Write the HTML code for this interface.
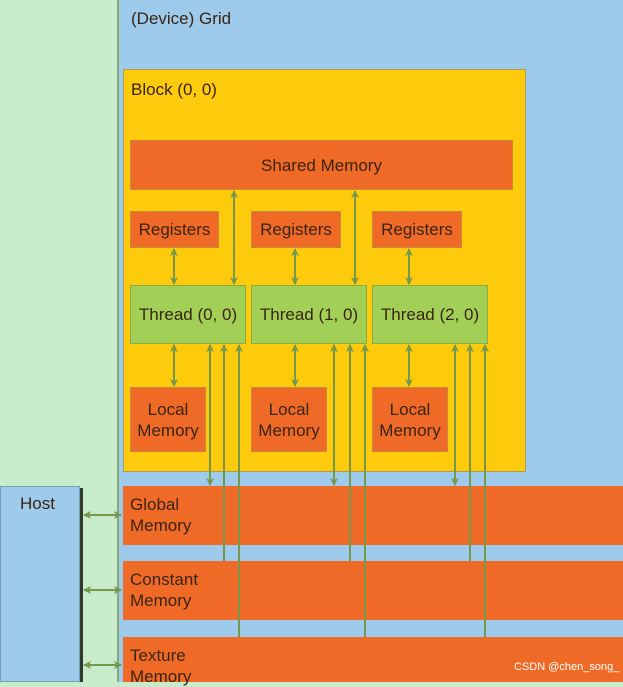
<!DOCTYPE html>
<html><head><meta charset="utf-8"><style>
body{margin:0;width:623px;height:682px;overflow:hidden;position:relative;background:#c7ebcb;font-family:"Liberation Sans",sans-serif;color:#3a2414}
div{position:absolute;box-sizing:border-box}
.o{background:#ef6a26;border:1px solid #c98a3a}
.t{background:#a2cf55;border:1px solid #8aab48}
.c{display:flex;align-items:center;justify-content:center;text-align:center;font-size:17px;line-height:21px}
.l{font-size:17px;line-height:21px;padding:8px 0 0 7px}
</style></head><body>
<div style="left:117px;top:0;width:506px;height:682px;background:#9ecbec;border-left:2px solid #86a877"></div>
<div style="left:131px;top:9px;font-size:17px">(Device) Grid</div>
<div style="left:123px;top:69px;width:403px;height:403px;background:#fdcb0c;border:1px solid #a8a050"></div>
<div style="left:131px;top:80px;font-size:17px">Block (0, 0)</div>
<div class="o c" style="left:130px;top:140px;width:383px;height:50px">Shared Memory</div>
<div class="o c" style="left:130px;top:211px;width:89px;height:37px">Registers</div>
<div class="o c" style="left:251px;top:211px;width:90px;height:37px">Registers</div>
<div class="o c" style="left:372px;top:211px;width:90px;height:37px">Registers</div>
<div class="t c" style="left:130px;top:285px;width:116px;height:59px">Thread (0, 0)</div>
<div class="t c" style="left:251px;top:285px;width:116px;height:59px">Thread (1, 0)</div>
<div class="t c" style="left:372px;top:285px;width:116px;height:59px">Thread (2, 0)</div>
<div class="o c" style="left:130px;top:387px;width:76px;height:65px">Local<br>Memory</div>
<div class="o c" style="left:251px;top:387px;width:76px;height:65px">Local<br>Memory</div>
<div class="o c" style="left:372px;top:387px;width:76px;height:65px">Local<br>Memory</div>
<div class="o l" style="left:123px;top:486px;width:500px;height:59px;border:none;padding-top:8px">Global<br>Memory</div>
<div class="o l" style="left:123px;top:561px;width:500px;height:59px;border:none">Constant<br>Memory</div>
<div class="o l" style="left:123px;top:637px;width:500px;height:45px;border:none">Texture<br>Memory</div>
<div style="left:0;top:486px;width:80px;height:196px;background:#9ecbec;border:1px solid #7aa0b8"></div>
<div style="left:20px;top:494px;font-size:17px">Host</div>
<div style="left:80px;top:488px;width:3px;height:194px;background:#2f3a2c"></div>
<div style="left:514px;top:661px;font-size:11px;color:#fff">CSDN @chen_song_</div>
<svg width="623" height="682" style="position:absolute;left:0;top:0">
<defs><marker id="a" markerWidth="8" markerHeight="8" refX="7" refY="4" orient="auto-start-reverse" markerUnits="userSpaceOnUse"><path d="M0,0L8,4L0,8L2,4Z" fill="#76984a"/></marker></defs>
<g stroke="#76984a" stroke-width="2" fill="none">
<line x1="174" y1="249" x2="174" y2="284" marker-start="url(#a)" marker-end="url(#a)"/>
<line x1="295" y1="249" x2="295" y2="284" marker-start="url(#a)" marker-end="url(#a)"/>
<line x1="409" y1="249" x2="409" y2="284" marker-start="url(#a)" marker-end="url(#a)"/>
<line x1="234" y1="191" x2="234" y2="284" marker-start="url(#a)" marker-end="url(#a)"/>
<line x1="355" y1="191" x2="355" y2="284" marker-start="url(#a)" marker-end="url(#a)"/>
<line x1="174" y1="345" x2="174" y2="386" marker-start="url(#a)" marker-end="url(#a)"/>
<line x1="295" y1="345" x2="295" y2="386" marker-start="url(#a)" marker-end="url(#a)"/>
<line x1="409" y1="345" x2="409" y2="386" marker-start="url(#a)" marker-end="url(#a)"/>
<line x1="210" y1="345" x2="210" y2="485" marker-start="url(#a)" marker-end="url(#a)"/>
<line x1="334" y1="345" x2="334" y2="485" marker-start="url(#a)" marker-end="url(#a)"/>
<line x1="455" y1="345" x2="455" y2="485" marker-start="url(#a)" marker-end="url(#a)"/>
<line x1="224" y1="561" x2="224" y2="345" marker-end="url(#a)"/>
<line x1="350" y1="561" x2="350" y2="345" marker-end="url(#a)"/>
<line x1="470" y1="561" x2="470" y2="345" marker-end="url(#a)"/>
<line x1="239" y1="637" x2="239" y2="345" marker-end="url(#a)"/>
<line x1="365" y1="637" x2="365" y2="345" marker-end="url(#a)"/>
<line x1="485" y1="637" x2="485" y2="345" marker-end="url(#a)"/>
<line x1="84" y1="515" x2="121" y2="515" marker-start="url(#a)" marker-end="url(#a)"/>
<line x1="84" y1="590" x2="121" y2="590" marker-start="url(#a)" marker-end="url(#a)"/>
<line x1="84" y1="665" x2="121" y2="665" marker-start="url(#a)" marker-end="url(#a)"/>
</g></svg>
</body></html>
